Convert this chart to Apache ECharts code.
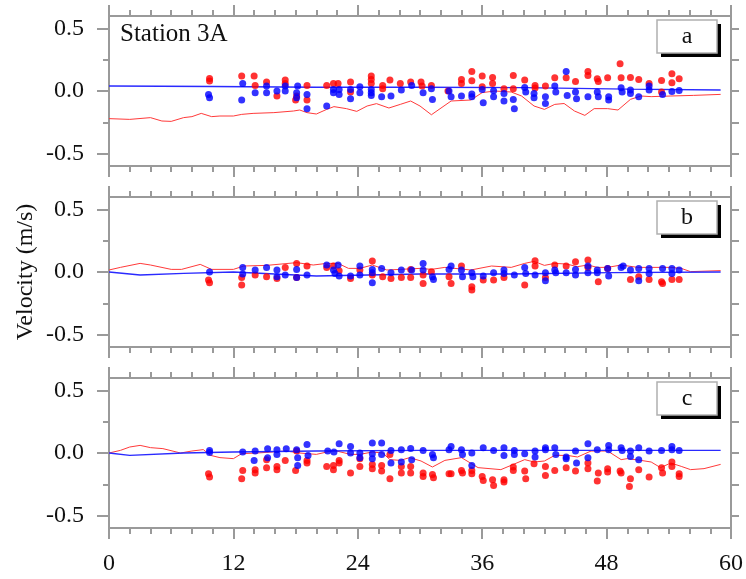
<!DOCTYPE html>
<html>
<head>
<meta charset="utf-8">
<script src="https://cdn.jsdelivr.net/npm/echarts@6/dist/echarts.min.js"></script>
<style>
  html, body { margin: 0; padding: 0; background: #fff; }
  #chart { width: 746px; height: 579px; }
</style>
</head>
<body>
<div id="chart"></div>
<script>
// Station 3A velocity records: three components (a, b, c), hour 0–60.
const stationName = 'Station 3A';
const panelLetters = ['a', 'b', 'c'];
const yAxisTitle = 'Velocity (m/s)';
const yMajorTicks = [-0.5, 0, 0.5];
const yMinorTicks = [-0.25, 0.25];
const xTickStep = 12;

// Panel a
const aRedLine = [[0,-0.221],[2.0,-0.227],[4.0,-0.213],[5.1,-0.24],[6.0,-0.243],[7.2,-0.213],[8.0,-0.205],[8.9,-0.179],[9.9,-0.205],[10.7,-0.2],[12.0,-0.2],[12.8,-0.187],[13.9,-0.179],[15.9,-0.173],[17.8,-0.16],[18.4,-0.152],[19.1,-0.173],[20.0,-0.184],[21.0,-0.147],[21.7,-0.125],[22.9,-0.141],[23.9,-0.163],[24.9,-0.12],[25.8,-0.101],[27.0,-0.136],[28.1,-0.107],[29.1,-0.08],[30.0,-0.12],[31.1,-0.19],[33.0,-0.08],[34.9,-0.072],[36.0,-0.013],[37.2,0.0],[38.8,-0.008],[39.8,-0.04],[41.0,-0.12],[42.0,-0.147],[43.0,-0.107],[43.9,-0.1],[44.9,-0.16],[45.9,-0.195],[46.8,-0.141],[48.1,-0.141],[49.1,-0.152],[50.3,-0.067],[51.3,-0.04],[52.3,-0.045],[54.2,-0.04],[56.4,-0.035],[59.0,-0.027]];
const aBlueLine = [[0,0.04],[10,0.036],[20,0.03],[30,0.03],[40,0.027],[50,0.015],[59,0.008]];
const aRedDots = [[9.7,0.10],[9.7,0.08],[12.8,0.12],[14.0,0.12],[14.1,0.045],[15.2,0.072],[16.2,-0.04],[17.0,0.088],[17.0,0.061],[18.0,-0.072],[18.1,-0.04],[19.1,0.045],[19.1,-0.072],[21.0,0.045],[21.65,0.061],[22.1,0.061],[23.3,0.072],[23.3,-0.008],[25.3,0.12],[25.3,0.093],[25.3,0.061],[26.4,0.045],[26.4,0.019],[27.1,0.088],[28.1,0.061],[29.1,0.072],[30.1,0.072],[30.2,0.04],[31.1,0.045],[32.7,0.0],[34.0,0.093],[34.0,0.061],[35.0,0.157],[35.0,0.083],[36.0,0.12],[36.0,0.035],[37.0,0.109],[37.0,0.061],[38.1,0.019],[39.0,0.125],[39.0,0.019],[40.1,0.088],[41.1,0.045],[41.1,0.024],[42.1,0.04],[43.0,0.107],[44.1,0.107],[45.0,0.077],[46.2,0.157],[46.2,0.125],[47.1,0.099],[47.2,0.077],[48.1,0.107],[49.3,0.219],[49.4,0.107],[50.3,0.109],[51.1,0.093],[52.1,0.061],[53.3,0.085],[53.3,-0.008],[54.3,0.139],[54.3,0.067],[55.0,0.099]];
const aBlueDots = [[9.6,-0.027],[9.7,-0.053],[12.9,0.061],[12.8,-0.072],[14.1,-0.013],[15.2,0.04],[15.2,-0.013],[16.2,0.0],[17.0,0.04],[17.0,0.0],[18.2,0.04],[18.1,-0.013],[18.1,-0.053],[19.1,-0.027],[19.1,-0.141],[21.0,-0.12],[21.65,0.013],[21.65,-0.013],[22.2,0.013],[22.2,-0.027],[23.3,0.013],[23.3,-0.061],[24.2,0.035],[24.2,-0.013],[25.3,0.013],[25.3,-0.013],[25.3,-0.035],[26.3,-0.045],[27.2,-0.04],[28.2,0.008],[29.2,0.045],[30.3,-0.013],[31.1,0.019],[31.2,-0.067],[32.8,0.0],[33.0,-0.045],[34.0,-0.04],[35.0,-0.024],[35.0,-0.045],[36.0,0.013],[36.1,-0.093],[37.1,0.003],[37.1,-0.045],[38.1,-0.019],[38.1,-0.08],[39.0,-0.067],[39.1,-0.141],[40.1,0.029],[40.2,-0.008],[41.0,-0.019],[41.0,-0.053],[42.1,-0.045],[42.1,-0.099],[43.0,0.04],[43.1,-0.008],[44.1,0.157],[44.2,-0.035],[45.0,-0.008],[45.1,-0.061],[46.2,-0.045],[47.1,-0.008],[47.2,-0.045],[48.2,-0.045],[48.2,-0.072],[49.4,0.027],[49.5,-0.008],[50.3,0.008],[50.3,-0.019],[51.1,-0.045],[52.1,0.04],[52.1,0.008],[53.4,-0.027],[54.3,-0.003],[55.0,0.005]];

// Panel b
const bRedLine = [[0,0.016],[1.1,0.037],[3.0,0.069],[4.0,0.056],[6.0,0.021],[7.0,0.021],[8.8,0.061],[9.9,0.021],[12.0,0.021],[13.0,0.048],[15.2,0.053],[18.1,0.075],[19.7,0.056],[21.0,0.069],[22.1,0.069],[23.1,0.029],[24.2,0.029],[25.4,0.056],[26.8,0.016],[28.1,0.021],[30.0,0.029],[31.1,0.021],[32.4,0.037],[34.9,0.016],[36.9,0.048],[38.8,0.037],[40.1,0.069],[41.0,0.085],[42.0,0.053],[43.0,0.069],[44.1,0.064],[45.2,0.043],[46.2,0.056],[47.1,0.037],[48.1,0.037],[49.4,0.056],[51.0,0.037],[52.3,0.037],[54.2,0.037],[55.2,0.029],[56.1,0.003],[59.0,0.011]];
const bBlueLine = [[0,0.0],[3.0,-0.024],[7.2,-0.011],[12.0,0.0],[20.0,-0.032],[30.0,-0.016],[38.8,-0.016],[48.4,-0.005],[59.0,0.0]];
const bRedDots = [[9.6,-0.064],[9.7,-0.085],[12.8,-0.043],[12.8,-0.104],[14.1,-0.024],[15.2,-0.037],[16.2,-0.051],[17.0,0.037],[18.1,0.069],[18.1,-0.043],[19.1,0.048],[21.0,0.037],[21.65,0.048],[22.2,0.011],[23.3,-0.051],[24.2,0.016],[25.4,0.088],[25.4,-0.024],[26.4,-0.037],[27.2,-0.051],[28.2,-0.043],[29.1,0.021],[29.1,-0.043],[30.3,-0.024],[30.3,-0.091],[31.1,0.003],[32.8,-0.037],[33.0,-0.091],[34.0,0.048],[35.0,-0.117],[35.0,-0.144],[36.1,-0.064],[37.1,-0.064],[38.1,-0.043],[40.1,-0.104],[41.1,0.091],[41.1,0.048],[42.1,-0.043],[43.0,0.056],[44.1,0.048],[45.0,0.083],[46.2,0.096],[46.2,0.037],[47.2,-0.077],[48.1,0.029],[50.3,-0.059],[51.1,-0.037],[52.1,-0.059],[53.3,-0.077],[53.4,-0.091],[54.3,-0.059],[55.0,-0.059]];
const bBlueDots = [[9.7,0.0],[12.9,0.037],[12.9,-0.016],[14.1,0.016],[15.2,0.037],[16.2,0.016],[16.2,-0.037],[17.0,-0.024],[18.1,0.021],[18.1,-0.043],[19.1,-0.024],[21.0,0.056],[21.65,0.016],[21.8,-0.011],[22.1,0.056],[22.2,-0.032],[23.3,-0.032],[24.2,0.048],[24.2,-0.024],[25.4,0.021],[25.4,-0.005],[25.4,-0.085],[26.3,0.029],[27.2,-0.005],[28.2,0.016],[29.2,0.016],[30.3,0.069],[30.3,0.016],[31.2,-0.037],[31.3,-0.059],[32.8,0.021],[33.0,0.048],[34.0,0.016],[34.1,-0.037],[35.0,-0.005],[35.1,-0.037],[36.1,-0.032],[37.1,-0.005],[38.1,0.016],[38.1,-0.011],[39.1,-0.024],[40.1,0.037],[40.2,-0.011],[41.1,-0.024],[42.1,-0.005],[42.1,-0.069],[43.0,0.016],[43.1,-0.005],[44.1,-0.005],[45.0,0.021],[45.0,-0.024],[46.2,0.048],[46.2,-0.005],[47.1,0.016],[47.1,-0.005],[48.1,0.029],[48.2,-0.032],[49.4,0.037],[49.6,0.048],[50.3,0.016],[51.1,0.029],[51.1,-0.069],[52.1,0.029],[52.1,-0.011],[53.4,0.029],[54.3,0.029],[54.3,-0.011],[55.0,0.016]];

// Panel c
const cRedLine = [[0,0.0],[1.1,0.021],[2.0,0.048],[3.0,0.061],[4.0,0.043],[5.2,0.035],[6.9,0.0],[8.0,0.016],[9.1,0.027],[9.8,-0.019],[10.7,-0.037],[12.0,-0.045],[12.8,-0.005],[14.3,0.0],[17.1,0.016],[18.4,0.0],[20.0,-0.011],[21.7,0.021],[23.3,-0.011],[24.2,-0.011],[25.4,0.008],[26.4,0.0],[27.1,-0.053],[28.1,-0.059],[29.0,-0.037],[30.1,-0.064],[31.2,-0.112],[32.4,-0.059],[34.0,-0.037],[35.6,-0.117],[37.8,-0.133],[40.1,-0.053],[41.0,-0.072],[42.0,-0.064],[43.0,-0.019],[44.2,-0.019],[45.2,-0.032],[46.5,0.016],[48.1,0.016],[49.4,-0.053],[50.0,-0.045],[51.3,-0.059],[52.3,-0.072],[53.2,-0.117],[54.2,-0.08],[55.2,-0.107],[56.1,-0.133],[57.4,-0.125],[59.0,-0.091]];
const cBlueLine = [[0,0.0],[2.0,-0.019],[7.2,0.0],[12.0,0.008],[20.0,0.016],[30.0,0.021],[59.0,0.021]];
const cRedDots = [[9.6,-0.165],[9.7,-0.192],[12.9,-0.139],[12.8,-0.205],[14.1,-0.133],[14.1,-0.16],[15.2,-0.053],[15.2,-0.117],[16.2,-0.107],[16.2,-0.133],[17.0,-0.059],[18.1,0.016],[18.0,-0.139],[19.1,-0.059],[19.1,-0.08],[21.0,-0.107],[21.65,-0.099],[21.65,-0.133],[22.2,-0.059],[22.2,-0.08],[23.3,-0.16],[24.2,-0.045],[24.2,-0.107],[25.4,-0.091],[25.4,-0.125],[26.3,-0.099],[26.3,-0.144],[27.1,-0.011],[27.1,-0.205],[28.2,-0.107],[28.2,-0.16],[29.1,-0.107],[29.1,-0.16],[30.3,-0.16],[30.3,-0.187],[31.2,-0.171],[31.3,-0.197],[32.8,-0.165],[33.0,-0.165],[34.0,-0.139],[34.1,-0.16],[35.0,-0.139],[35.0,-0.165],[36.0,-0.187],[36.1,-0.219],[37.0,-0.213],[37.1,-0.259],[38.1,-0.213],[38.1,-0.232],[39.0,-0.112],[39.0,-0.139],[40.1,-0.144],[40.2,-0.205],[41.0,-0.085],[42.1,-0.107],[42.1,-0.179],[43.0,-0.139],[44.1,-0.117],[45.0,-0.144],[46.2,-0.08],[46.2,-0.125],[47.2,-0.16],[47.1,-0.224],[48.1,-0.125],[48.1,-0.152],[49.3,-0.144],[49.4,-0.16],[50.3,-0.205],[50.2,-0.267],[51.1,-0.133],[52.1,-0.192],[53.3,-0.117],[53.4,-0.16],[54.3,-0.072],[54.3,-0.107],[55.0,-0.165],[55.0,-0.187]];
const cBlueDots = [[9.7,0.021],[9.7,0.005],[12.9,0.008],[14.1,0.016],[14.0,-0.059],[15.3,0.035],[15.3,-0.037],[16.2,0.027],[16.2,-0.011],[17.1,0.035],[18.1,0.027],[18.2,-0.037],[18.2,-0.099],[19.1,0.069],[19.2,-0.019],[21.1,0.016],[21.7,0.008],[22.2,0.075],[23.3,0.053],[23.3,0.0],[24.2,0.0],[24.2,-0.037],[25.4,0.08],[25.4,-0.005],[25.4,-0.045],[26.3,0.08],[26.3,-0.011],[27.2,0.021],[27.2,-0.08],[28.2,0.027],[28.2,-0.072],[29.1,0.037],[29.2,-0.053],[30.3,0.021],[31.2,-0.011],[31.3,-0.037],[32.8,0.027],[33.0,0.053],[34.0,0.027],[34.1,-0.011],[35.0,0.0],[35.0,-0.099],[36.1,0.043],[37.1,0.021],[38.1,0.043],[38.1,-0.019],[39.1,0.021],[39.1,-0.011],[40.1,-0.005],[41.1,0.016],[41.1,-0.032],[42.1,0.043],[42.1,0.027],[43.0,0.043],[43.1,-0.011],[44.1,-0.032],[44.1,-0.045],[45.0,0.016],[45.1,-0.08],[46.2,0.075],[46.2,-0.037],[47.1,0.027],[48.2,0.061],[48.2,0.027],[49.4,0.043],[49.5,0.021],[50.3,0.016],[50.3,-0.027],[51.1,0.043],[51.1,-0.053],[52.1,0.016],[53.3,0.021],[54.3,0.053],[54.3,0.027],[55.0,0.021]];

const panels = [
  { redLine: aRedLine, blueLine: aBlueLine, redDots: aRedDots, blueDots: aBlueDots },
  { redLine: bRedLine, blueLine: bBlueLine, redDots: bRedDots, blueDots: bBlueDots },
  { redLine: cRedLine, blueLine: cBlueLine, redDots: cRedDots, blueDots: cBlueDots }
];

const FONT = "'Liberation Serif', 'Times New Roman', serif";
const AXIS_GRAY = '#9a9a9a';
const RED = '#ff0000';
const BLUE = '#0000ff';

const gridLeft = 109, gridWidth = 622, gridHeight = 150;
const gridTops = [16, 197, 378];

const grids = [], xAxes = [], yAxes = [], series = [], graphics = [];

panels.forEach((p, i) => {
  grids.push({ left: gridLeft, top: gridTops[i], width: gridWidth, height: gridHeight, containLabel: false });

  const axisLine = { show: true, onZero: false, lineStyle: { color: AXIS_GRAY, width: 2 } };
  const xBase = (pos, showLabel) => ({
    type: 'value', gridIndex: i, position: pos, min: 0, max: 60, interval: xTickStep,
    axisLine: axisLine,
    axisTick: { show: true, inside: false, length: 11, lineStyle: { color: AXIS_GRAY, width: 2 } },
    minorTick: { show: true, splitNumber: 6, length: 6, lineStyle: { color: AXIS_GRAY, width: 2 } },
    axisLabel: { show: showLabel, fontFamily: FONT, fontSize: 24, color: '#111', margin: 24 },
    splitLine: { show: false }, minorSplitLine: { show: false }
  });
  xAxes.push(xBase('bottom', i === 2));
  xAxes.push(xBase('top', false));

  const yBase = (pos) => ({
    type: 'value', gridIndex: i, position: pos, min: -0.6, max: 0.6,
    splitLine: { show: false }
  });
  // left: labelled major ticks
  yAxes.push(Object.assign(yBase('left'), {
    axisLine: axisLine,
    axisTick: { show: true, inside: false, length: 12, customValues: yMajorTicks, lineStyle: { color: AXIS_GRAY, width: 2 } },
    axisLabel: { show: true, customValues: yMajorTicks, formatter: v => v.toFixed(1), fontFamily: FONT, fontSize: 24, color: '#111', margin: 25 }
  }));
  // left: short intermediate ticks
  yAxes.push(Object.assign(yBase('left'), {
    axisLine: { show: false, onZero: false },
    axisTick: { show: true, inside: false, length: 6, customValues: yMinorTicks, lineStyle: { color: AXIS_GRAY, width: 2 } },
    axisLabel: { show: false }
  }));
  // right frame with ticks
  yAxes.push(Object.assign(yBase('right'), {
    axisLine: axisLine,
    axisTick: { show: true, inside: false, length: 8, customValues: yMajorTicks.concat(yMinorTicks), lineStyle: { color: AXIS_GRAY, width: 2 } },
    axisLabel: { show: false }
  }));

  const xi = i * 2, yi = i * 3;
  series.push({ type: 'line', xAxisIndex: xi, yAxisIndex: yi, data: p.redLine, symbol: 'none',
    lineStyle: { color: '#ff3a3a', width: 1 }, z: 2, silent: true });
  series.push({ type: 'line', xAxisIndex: xi, yAxisIndex: yi, data: p.blueLine, symbol: 'none',
    lineStyle: { color: '#2a2aff', width: 1.3 }, z: 2, silent: true });
  series.push({ type: 'scatter', xAxisIndex: xi, yAxisIndex: yi, data: p.redDots, symbol: 'circle', symbolSize: 7,
    itemStyle: { color: RED }, z: 3, silent: true });
  series.push({ type: 'scatter', xAxisIndex: xi, yAxisIndex: yi, data: p.blueDots, symbol: 'circle', symbolSize: 7,
    itemStyle: { color: BLUE }, z: 4, silent: true });

  // panel letter box with drop shadow
  const bx = 657, by = gridTops[i] + 4, bw = 60, bh = 33;
  graphics.push({
    type: 'group', z: 100,
    children: [
      { type: 'rect', shape: { x: bx + 4, y: by + 4, width: bw, height: bh }, style: { fill: '#000' } },
      { type: 'rect', shape: { x: bx, y: by, width: bw, height: bh }, style: { fill: '#fff', stroke: '#b0b0b0', lineWidth: 1.5 } },
      { type: 'text', x: bx + bw / 2, y: by + bh / 2, style: { text: panelLetters[i], fontFamily: FONT, fontSize: 24, fill: '#111', align: 'center', verticalAlign: 'middle' } }
    ]
  });
});

graphics.push({ type: 'text', left: 120, top: 22, z: 100,
  style: { text: stationName, fontFamily: FONT, fontSize: 25, fill: '#111' } });
graphics.push({ type: 'text', x: 26, y: 272, rotation: Math.PI / 2, z: 100,
  style: { text: yAxisTitle, fontFamily: FONT, fontSize: 24, fill: '#111', align: 'center', verticalAlign: 'middle' } });

const chart = echarts.init(document.getElementById('chart'), null, { renderer: 'canvas' });
chart.setOption({
  animation: false,
  backgroundColor: '#fff',
  grid: grids,
  xAxis: xAxes,
  yAxis: yAxes,
  series: series,
  graphic: graphics
});
</script>
</body>
</html>
